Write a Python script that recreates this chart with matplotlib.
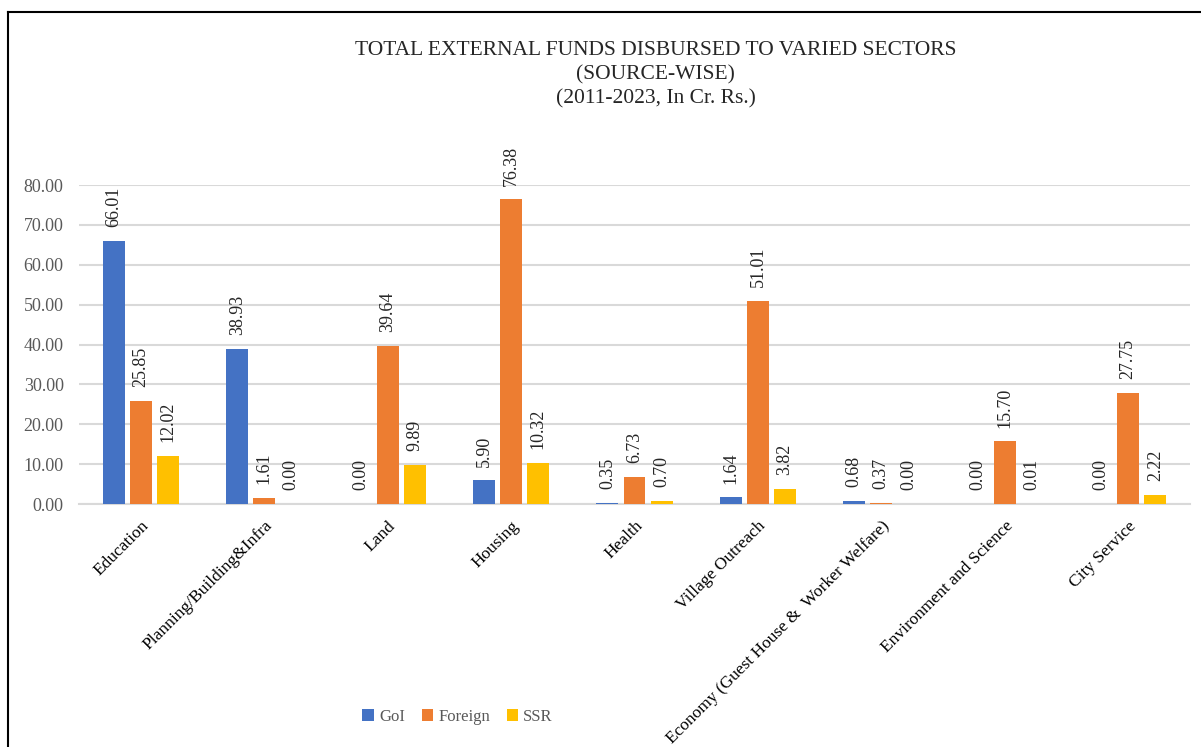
import matplotlib
matplotlib.use("Agg")
from matplotlib import pyplot as plt
from matplotlib.lines import Line2D
import numpy as np

plt.rcParams['font.family'] = ['Liberation Serif', 'DejaVu Serif']

# sectors and source-wise disbursements (Cr. Rs.)
sectors = ["Education", "Planning/Building&Infra", "Land", "Housing", "Health",
           "Village Outreach", "Economy (Guest House &  Worker Welfare)",
           "Environment and Science", "City Service"]
goi = [66.01, 38.93, 0.00, 5.90, 0.35, 1.64, 0.68, 0.00, 0.00]
foreign = [25.85, 1.61, 39.64, 76.38, 6.73, 51.01, 0.37, 15.70, 27.75]
ssr = [12.02, 0.00, 9.89, 10.32, 0.70, 3.82, 0.00, 0.01, 2.22]

seriesNames = ["GoI", "Foreign", "SSR"]
seriesColors = ["#4472C4", "#ED7D31", "#FFC000"]

fig = plt.figure(figsize=(12.01, 7.47), dpi=100)
ax = fig.add_axes([0.0658, 0.3253, 0.925, 0.427])

x = np.arange(len(sectors))
barWidth = 0.178
offset = 0.219
for k, (vals, name, col) in enumerate(zip([goi, foreign, ssr], seriesNames, seriesColors)):
    pos = x + (k - 1) * offset
    ax.bar(pos, vals, width=barWidth, color=col, label=name, zorder=3)
    # data labels, rotated like the Excel original
    for px, v in zip(pos, vals):
        ax.annotate("{:.2f}".format(v), xy=(px, v), xytext=(0, 10),
                    textcoords="offset points", rotation=90,
                    ha="center", va="bottom", fontsize=13, color="#262626",
                    annotation_clip=False)

ax.set_xlim(-0.5, len(sectors) - 0.5)
ax.set_ylim(0, 80)
ax.set_yticks(np.arange(0, 81, 10))
ax.set_yticklabels(["{:.2f}".format(t) for t in np.arange(0, 81, 10)],
                   fontsize=13, color="#595959")
ax.set_xticks(x)
ax.set_xticklabels(sectors, rotation=45, ha="right", rotation_mode="anchor",
                   fontsize=12.5, color="black")
ax.tick_params(axis="y", length=0, pad=11)
ax.tick_params(axis="x", length=0, pad=10)
ax.grid(axis="y", color="#d9d9d9", linewidth=1.5, zorder=0)
for side in ["top", "right", "left"]:
    ax.spines[side].set_visible(False)
ax.spines["bottom"].set_color("#d9d9d9")
ax.spines["bottom"].set_linewidth(1.5)

fig.text(0.546, 0.945, "TOTAL EXTERNAL FUNDS DISBURSED TO VARIED SECTORS\n(SOURCE-WISE)\n(2011-2023, In Cr. Rs.)",
         ha="center", va="top", fontsize=15.5, color="#262626", linespacing=1.33)

fig.legend(loc="center", bbox_to_anchor=(0.381, 0.040), ncol=3, frameon=False,
           fontsize=12, handlelength=0.7, handleheight=0.7, handletextpad=0.3,
           columnspacing=1.0, labelcolor="#595959")

# chart border (left and top edges visible in the crop)
fig.add_artist(Line2D([8 / 1201, 8 / 1201], [0, 1 - 12 / 747], color="black",
                      linewidth=1.5, transform=fig.transFigure))
fig.add_artist(Line2D([8 / 1201, 1], [1 - 12 / 747, 1 - 12 / 747], color="black",
                      linewidth=1.5, transform=fig.transFigure))

fig.savefig("out.png", dpi=100)
